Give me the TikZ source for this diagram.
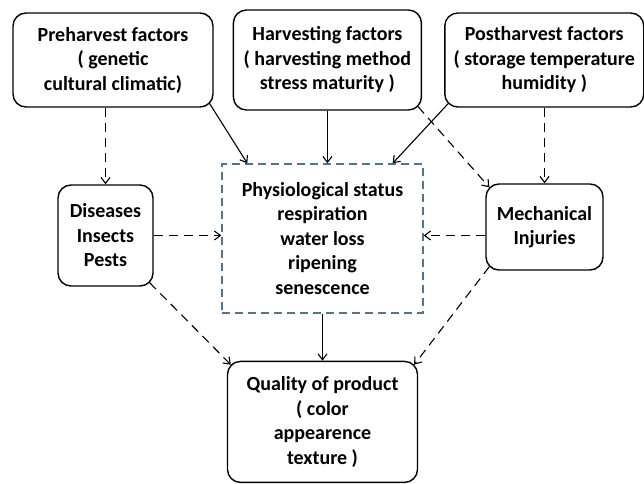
\documentclass[tikz,border=0pt]{standalone}
\usepackage{fontspec}
\setmainfont{Carlito}
\usepackage{xcolor}
\usetikzlibrary{arrows.meta,positioning}
\definecolor{physblue}{RGB}{84,115,140}

\begin{document}
\begin{tikzpicture}[
  x=1pt, y=-1pt,
  font=\bfseries\fontsize{20}{24.5}\selectfont,
  box/.style={draw, line width=1.4pt, rounded corners=13pt, align=center,
              inner sep=0pt},
  dbox/.style={draw=physblue, line width=1.4pt, dash pattern=on 8pt off 5pt,
               align=center, inner sep=0pt},
  ar/.style={line width=1.1pt, -{Straight Barb[length=6pt,width=9pt]}},
  dar/.style={ar, dash pattern=on 9pt off 6pt}]

\useasboundingbox (0,0) rectangle (644,483);

\node[box, minimum width=200pt, minimum height=94pt] (pre) at (113,60)
  {Preharvest factors\\( genetic\\cultural climatic)};
\node[box, minimum width=188pt, minimum height=100pt, right=19pt of pre] (harv)
  {Harvesting factors\\( harvesting method\\stress maturity )};
\node[box, minimum width=199pt, minimum height=94pt, right=22pt of harv] (post)
  {Postharvest factors\\( storage temperature\\humidity )};

\node[box, minimum width=95pt, minimum height=101pt] (dis) at (105.5,235.5)
  {Diseases\\Insects\\Pests};
\node[dbox, minimum width=201pt, minimum height=149pt] (phys) at (322.5,238.5)
  {Physiological status\\respiration\\water loss\\ripening\\senescence};
\node[box, minimum width=117pt, minimum height=86pt] (mech) at (544.5,227)
  {Mechanical\\Injuries};

\node[box, minimum width=190pt, minimum height=121pt, below=47pt of phys] (qual)
  {Quality of product\\( color\\appearence\\texture )};

\draw[dar] (pre.south -| dis.north) -- (dis.north);
\draw[ar] ([xshift=-4pt,yshift=4pt]pre.south east) -- ([xshift=26pt]phys.north west);
\draw[ar] (harv.south) -- (harv.south |- phys.north);
\draw[ar] ([xshift=4pt,yshift=4pt]post.south west) -- ([xshift=-31pt]phys.north east);
\draw[dar] ([xshift=-4pt,yshift=4pt]harv.south east) -- ([xshift=4pt,yshift=-4pt]mech.north west);
\draw[dar] (mech.north |- post.south) -- (mech.north);
\draw[dar] (dis.east) -- (dis.east -| phys.west);
\draw[dar] (mech.west |- dis.east) -- (phys.east |- dis.east);
\draw[ar] (phys.south -| qual.north) -- (qual.north);
\draw[dar] ([xshift=-4pt,yshift=4pt]dis.south east) -- ([xshift=4pt,yshift=-4pt]qual.north west);
\draw[dar] ([xshift=4pt,yshift=4pt]mech.south west) -- ([xshift=-4pt,yshift=-4pt]qual.north east);
\end{tikzpicture}
\end{document}
